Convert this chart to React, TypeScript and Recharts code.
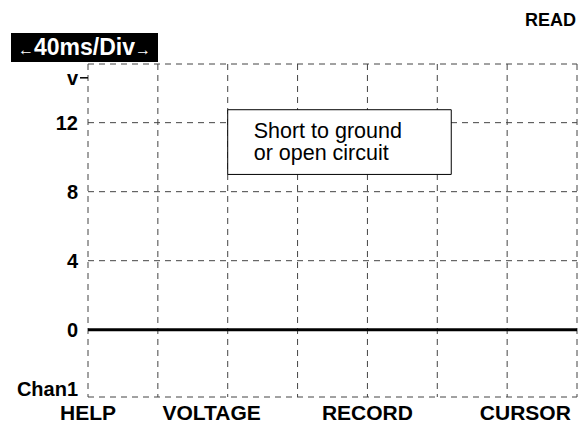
import React from "react";
import {
    LineChart,
    Line,
    XAxis,
    YAxis,
    CartesianGrid,
    ReferenceArea,
} from "recharts";

// time divisions (40 ms each) and the flat trace on Chan1
const timeDivs = [0, 1, 2, 3, 4, 5, 6, 7];
const trace = [0, 0, 0, 0, 0, 0, 0, 0];

// volts
const gridVolts = [-3.9, 0, 4, 8, 12, 15.4];
const voltTicks = [-3.4, 0, 4, 8, 12, 14.6];
const voltLabels = ["Chan1", "0", "4", "8", "12", "v"];

// soft keys under the screen
const softKeyPos = [0, 1.77, 4, 6.26];
const softKeys = ["HELP", "VOLTAGE", "RECORD", "CURSOR"];

const boxLines = ["Short to ground", "or open circuit"];

const data = timeDivs.map((t, i) => ({ t, v: trace[i] }));

const FONT = '"Liberation Sans", Arial, Helvetica, sans-serif';

const VoltTick = (props: any) => {
    const { x, y, payload } = props;
    const idx = voltTicks.indexOf(payload.value);
    const label = voltLabels[idx] ?? "";
    return (
        <g>
            <text
                x={x}
                y={y}
                dy="0.36em"
                textAnchor="end"
                fontFamily={FONT}
                fontWeight="bold"
                fontSize={20}
                fill="#000"
            >
                {label}
            </text>
            {label === "v" && (
                <line x1={x + 2} x2={x + 10} y1={y} y2={y} stroke="#000" strokeWidth={1.5} />
            )}
        </g>
    );
};

const KeyTick = (props: any) => {
    const { x, y, payload } = props;
    const idx = softKeyPos.indexOf(payload.value);
    return (
        <text
            x={x}
            y={y}
            dy={23}
            textAnchor="middle"
            fontFamily={FONT}
            fontWeight="bold"
            fontSize={21}
            fill="#000"
        >
            {softKeys[idx] ?? ""}
        </text>
    );
};

const BoxLabel = (props: any) => {
    const vb = props.viewBox || {};
    return (
        <text fontFamily={FONT} fontSize={21.5} fill="#000">
            {boxLines.map((l, i) => (
                <tspan key={i} x={vb.x + 26} y={vb.y + 28 + i * 22}>
                    {l}
                </tspan>
            ))}
        </text>
    );
};

const App = () => {
    return (
        <div
            style={{
                position: "absolute",
                left: 0,
                top: 0,
                width: 587,
                height: 426,
                background: "#fff",
            }}
        >
            <LineChart
                width={587}
                height={426}
                data={data}
                margin={{ top: 64, right: 10, bottom: 0, left: 0 }}
            >
                <XAxis
                    dataKey="t"
                    type="number"
                    domain={[0, 7]}
                    ticks={softKeyPos}
                    height={29}
                    axisLine={false}
                    tickLine={false}
                    tickSize={0}
                    tickMargin={0}
                    tick={<KeyTick />}
                    interval={0}
                    allowDataOverflow
                />
                <YAxis
                    type="number"
                    domain={[-3.9, 15.4]}
                    ticks={voltTicks}
                    width={88}
                    axisLine={false}
                    tickLine={false}
                    tickSize={0}
                    tickMargin={10}
                    tick={<VoltTick />}
                    interval={0}
                    allowDataOverflow
                />
                <CartesianGrid
                    verticalValues={timeDivs}
                    horizontalValues={gridVolts}
                    stroke="#444"
                    strokeDasharray="6 5"
                    strokeWidth={1}
                />
                <ReferenceArea
                    x1={2}
                    x2={5.2}
                    y1={9}
                    y2={12.75}
                    fill="#fff"
                    fillOpacity={1}
                    stroke="#000"
                    strokeWidth={1}
                    label={<BoxLabel />}
                />
                <Line
                    dataKey="v"
                    stroke="#000"
                    strokeWidth={3}
                    dot={false}
                    isAnimationActive={false}
                />
            </LineChart>
            <div
                style={{
                    position: "absolute",
                    left: 11,
                    top: 33,
                    width: 147,
                    height: 29,
                    background: "#000",
                    color: "#fff",
                    fontFamily: FONT,
                    fontWeight: "bold",
                    fontSize: 23,
                    lineHeight: "29px",
                    textAlign: "center",
                    whiteSpace: "nowrap",
                }}
            >
                <span style={{ fontSize: 16 }}>←</span>40ms/Div<span style={{ fontSize: 16 }}>→</span>
            </div>
            <div
                style={{
                    position: "absolute",
                    left: 525,
                    top: 9,
                    fontFamily: FONT,
                    fontWeight: "bold",
                    fontSize: 18,
                    lineHeight: "22px",
                    color: "#000",
                }}
            >
                READ
            </div>
        </div>
    );
};

export default App;
